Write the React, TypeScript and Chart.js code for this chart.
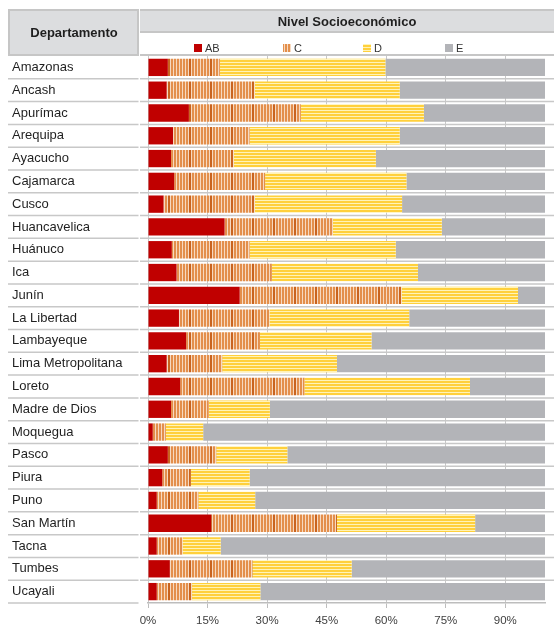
import { useEffect, useRef } from "react";
import { Chart, registerables } from "chart.js";

Chart.register(...registerables);

const departamentos = [
  "Amazonas", "Ancash", "Apurímac", "Arequipa", "Ayacucho", "Cajamarca", "Cusco",
  "Huancavelica", "Huánuco", "Ica", "Junín", "La Libertad", "Lambayeque",
  "Lima Metropolitana", "Loreto", "Madre de Dios", "Moquegua", "Pasco", "Piura",
  "Puno", "San Martín", "Tacna", "Tumbes", "Ucayali",
];
const serieAB = [5.0, 4.7, 10.3, 6.3, 5.8, 6.6, 3.9, 19.3, 6.0, 7.2, 23.1, 7.8, 9.6, 4.7, 8.1, 5.8, 1.2, 5.0, 3.6, 2.2, 15.9, 2.2, 5.5, 2.2];
const serieC = [13.1, 22.2, 28.2, 19.3, 15.8, 22.9, 23.0, 27.3, 19.6, 24.0, 40.8, 22.8, 18.6, 14.0, 31.3, 9.5, 3.3, 12.2, 7.2, 10.5, 31.7, 6.5, 20.8, 8.9];
const serieD = [41.7, 36.5, 31.0, 37.8, 35.8, 35.6, 37.1, 27.4, 36.8, 36.8, 29.3, 35.2, 28.1, 28.9, 41.7, 15.4, 9.4, 17.9, 14.8, 14.3, 34.8, 9.6, 25.0, 17.2];
const serieE = [40.2, 36.6, 30.5, 36.6, 42.6, 34.9, 36.0, 26.0, 37.6, 32.0, 6.8, 34.2, 43.7, 52.4, 18.9, 69.3, 86.1, 64.9, 74.4, 73.0, 17.6, 81.7, 48.7, 71.7];
const seriesNames = ["AB", "C", "D", "E"];
const xTickValues = [0, 15, 30, 45, 60, 75, 90];
const headerLeft = "Departamento";
const headerRight = "Nivel Socioeconómico";

const FONT = '"Liberation Sans", Arial, sans-serif';

function makeVerticalStripes(): CanvasPattern | string {
  const cv = document.createElement("canvas");
  cv.width = 21;
  cv.height = 4;
  const g = cv.getContext("2d");
  if (!g) return "#e3914f";
  g.fillStyle = "#f7d9c0";
  g.fillRect(0, 0, 21, 4);
  for (let i = 0; i < 7; i++) {
    g.fillStyle = i === 0 ? "#c9641f" : "#e38f4c";
    g.fillRect(i * 3, 0, 2, 4);
  }
  return g.createPattern(cv, "repeat") || "#e3914f";
}

function makeHorizontalStripes(): CanvasPattern | string {
  const cv = document.createElement("canvas");
  cv.width = 4;
  cv.height = 3;
  const g = cv.getContext("2d");
  if (!g) return "#ffd23f";
  g.fillStyle = "#fff3b8";
  g.fillRect(0, 0, 4, 3);
  g.fillStyle = "#ffd03c";
  g.fillRect(0, 0, 4, 2);
  return g.createPattern(cv, "repeat") || "#ffd23f";
}

export default function App() {
  const ref = useRef<HTMLCanvasElement | null>(null);

  useEffect(() => {
    if (!ref.current) return;
    const patC = makeVerticalStripes();
    const patD = makeHorizontalStripes();
    const colors: any[] = ["#c00000", patC, patD, "#b3b4b8"];
    const seriesData = [serieAB, serieC, serieD, serieE];

    const decor = {
      id: "tableDecor",
      beforeDraw(chart: any) {
        const ctx = chart.ctx as CanvasRenderingContext2D;
        ctx.save();
        ctx.fillStyle = "#ffffff";
        ctx.fillRect(0, 0, chart.width, chart.height);
        // Departamento header box
        ctx.fillStyle = "#dcdddf";
        ctx.fillRect(8, 9, 131, 46);
        ctx.strokeStyle = "#c6c6c6";
        ctx.lineWidth = 2;
        ctx.strokeRect(9, 10, 129, 45);
        // Nivel header box
        ctx.fillStyle = "#dcdddf";
        ctx.fillRect(140, 9, 414, 23);
        ctx.beginPath();
        ctx.moveTo(140, 10); ctx.lineTo(554, 10);
        ctx.moveTo(140, 32); ctx.lineTo(554, 32);
        ctx.moveTo(140, 55); ctx.lineTo(554, 55);
        ctx.stroke();
        // texts
        ctx.fillStyle = "#1f1f1f";
        ctx.textBaseline = "middle";
        ctx.textAlign = "center";
        ctx.font = `bold 13px ${FONT}`;
        ctx.fillText(headerLeft, 74, 33);
        ctx.fillText(headerRight, 347, 22);
        // legend
        const legendX = [194, 283, 363, 445];
        ctx.font = `11px ${FONT}`;
        ctx.textAlign = "left";
        for (let i = 0; i < seriesNames.length; i++) {
          ctx.fillStyle = colors[i];
          ctx.fillRect(legendX[i], 44, 8, 8);
          ctx.fillStyle = "#333333";
          ctx.fillText(seriesNames[i], legendX[i] + 11, 48.5);
        }
        ctx.restore();
      },
      beforeDatasetsDraw(chart: any) {
        const ctx = chart.ctx as CanvasRenderingContext2D;
        const area = chart.chartArea;
        const n = departamentos.length;
        const h = (area.bottom - area.top) / n;
        ctx.save();
        ctx.strokeStyle = "#c8c8c8";
        ctx.lineWidth = 1.5;
        ctx.beginPath();
        for (let i = 1; i <= n; i++) {
          const y = area.top + i * h;
          ctx.moveTo(8, y);
          ctx.lineTo(138.5, y);
          if (i < n) {
            ctx.moveTo(140, y);
            ctx.lineTo(554, y);
          }
        }
        ctx.stroke();
        ctx.restore();
      },
    };

    const chart = new Chart(ref.current, {
      type: "bar",
      data: {
        labels: departamentos,
        datasets: seriesData.map((vals, i) => ({
          label: seriesNames[i],
          data: vals,
          backgroundColor: colors[i],
          borderWidth: 0,
          barPercentage: 0.76,
          categoryPercentage: 1,
        })),
      },
      options: {
        indexAxis: "y",
        animation: false,
        responsive: true,
        maintainAspectRatio: false,
        layout: { padding: { left: 12, top: 56, right: 9, bottom: 0 } },
        plugins: {
          legend: { display: false },
          tooltip: { enabled: false },
        },
        scales: {
          x: {
            stacked: true,
            min: 0,
            max: 100,
            afterFit: (s: any) => { s.height = 24; },
            afterBuildTicks: (s: any) => {
              s.ticks = xTickValues.map((v) => ({ value: v }));
            },
            ticks: {
              includeBounds: false,
              stepSize: 15,
              padding: 6,
              color: "#404040",
              font: { family: FONT, size: 11.5 },
              callback: (v: any) => `${v}%`,
            },
            grid: {
              color: "#c8c8c8",
              lineWidth: 1,
              tickLength: 5,
              tickColor: "#bdbdbd",
            },
            border: { display: true, color: "#bdbdbd", width: 1.5 },
          },
          y: {
            stacked: true,
            afterFit: (s: any) => { s.width = 136; },
            ticks: {
              crossAlign: "far",
              padding: 0,
              color: "#1f1f1f",
              font: { family: FONT, size: 13 },
              autoSkip: false,
            },
            grid: { display: false },
            border: { display: false },
          },
        },
      },
      plugins: [decor],
    } as any);

    return () => chart.destroy();
  }, []);

  return (
    <div style={{ position: "absolute", left: 0, top: 0, width: 554, height: 627, background: "#fff" }}>
      <canvas ref={ref} />
    </div>
  );
}
